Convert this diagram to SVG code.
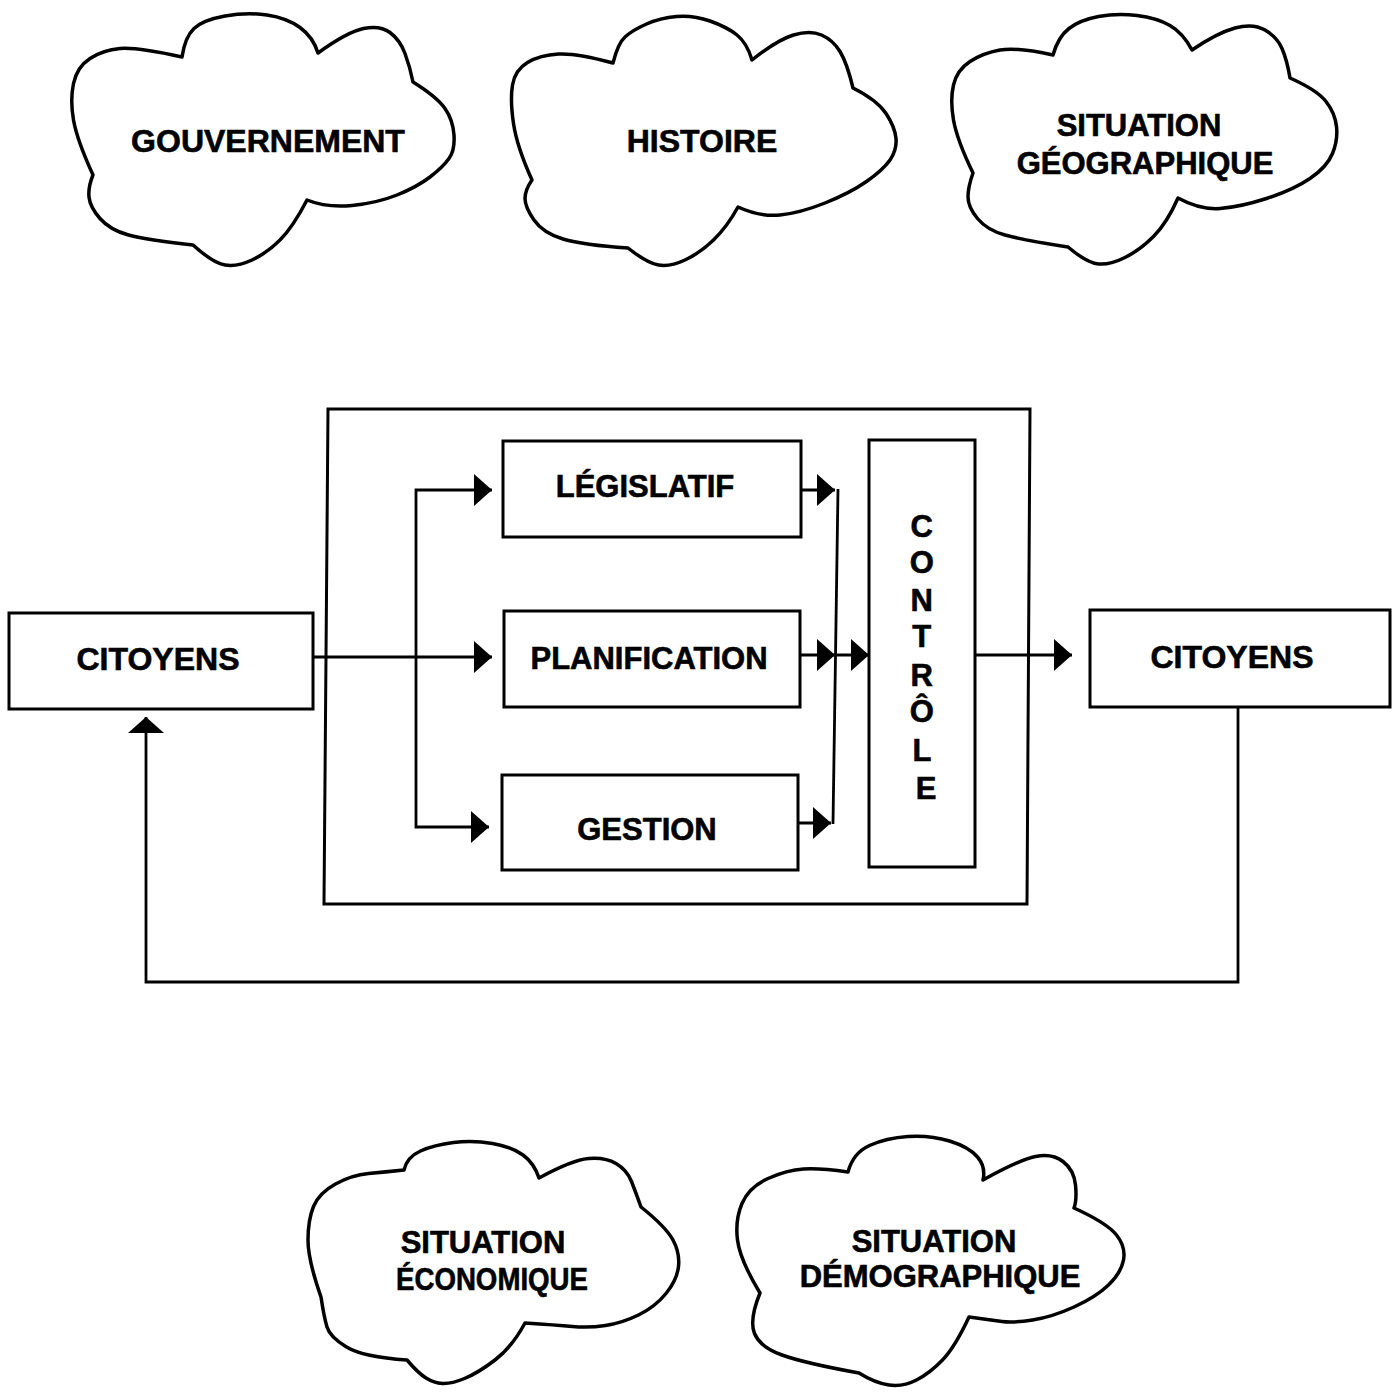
<svg xmlns="http://www.w3.org/2000/svg" width="1395" height="1392" viewBox="0 0 1395 1392">
<style>
.cloud{fill:none;stroke:#000;stroke-width:3.5;stroke-linejoin:round}
.box{fill:none;stroke:#000;stroke-width:3}
.conn{fill:none;stroke:#000;stroke-width:2.8}
.lbl{font-family:'Liberation Sans',Arial,sans-serif;font-weight:bold;font-size:31px;text-anchor:middle;fill:#000;stroke:#000;stroke-width:0.6}
</style>
<defs>
<marker id="ah" markerUnits="userSpaceOnUse" markerWidth="18" markerHeight="32" refX="18" refY="16" orient="auto" overflow="visible">
<path d="M0,0 L18,16 L0,32 Z" fill="#000"/>
</marker>
<marker id="ahUp" markerUnits="userSpaceOnUse" markerWidth="16" markerHeight="36" refX="16" refY="18" orient="auto" overflow="visible">
<path d="M0,0 L16,18 L0,36 Z" fill="#000"/>
</marker>
</defs>
<rect width="1395" height="1392" fill="#fff"/>

<g id="cloud-gouvernement">
<path class="cloud" d="M182,57 Q185,37 194,28.5 Q203,20 225,16 Q247,12 267,15 Q287,18 300,27.5 Q313,37 318,53 Q347,32 363.5,28.5 Q380,25 390,32.5 Q400,40 405,53.5 Q410,67 413,82 Q437,97 445,108.5 Q453,120 454,135 Q455,150 449,158.5 Q443,167 430,177 Q417,187 397,195 Q377,203 352,205.5 Q327,208 307,200 Q293,227 280,240 Q267,253 252,260 Q237,267 225,265 Q213,263 193,245 Q147,240 128.5,235 Q110,230 100,218.5 Q90,207 89,197 Q88,187 93,175 Q77,140 73.5,120 Q70,100 73.5,83.5 Q77,67 90,58.5 Q103,50 120,48.5 Q137,47 182,57 Z"/>
<text class="lbl" x="268" y="152" style="font-size:32px">GOUVERNEMENT</text>
</g>

<g id="cloud-histoire">
<path class="cloud" d="M613,63 Q618,43 625.5,36.5 Q633,30 646.5,24 Q660,18 676.5,16.5 Q693,15 710,21 Q727,27 737,35 Q747,43 752,60 Q777,40 793.5,35 Q810,30 821.5,35 Q833,40 840,51.5 Q847,63 853,88 Q877,100 886,113.5 Q895,127 896,138.5 Q897,150 890,160 Q883,170 866.5,181.5 Q850,193 825,203 Q800,213 780,215 Q760,217 738,207 Q727,227 713.5,240 Q700,253 685,260 Q670,267 658.5,265 Q647,263 628,248 Q583,245 563,239 Q543,233 534,220 Q525,207 525,198.5 Q525,190 532,180 Q517,147 513.5,123.5 Q510,100 512.5,85 Q515,70 527.5,62.5 Q540,55 558.5,54 Q577,53 613,63 Z"/>
<text class="lbl" x="702" y="152" style="font-size:32px">HISTOIRE</text>
</g>

<g id="cloud-geographique">
<path class="cloud" d="M1053,55 Q1058,37 1069,28.5 Q1080,20 1098.5,16.5 Q1117,13 1137,15.5 Q1157,18 1170,25.5 Q1183,33 1192,50 Q1217,33 1235,28 Q1253,23 1265,30 Q1277,37 1282,48.5 Q1287,60 1290,78 Q1317,90 1326,101.5 Q1335,113 1336.5,126.5 Q1338,140 1332.5,153.5 Q1327,167 1310,178.5 Q1293,190 1266.5,198.5 Q1240,207 1220,208.5 Q1200,210 1178,198 Q1167,223 1153.5,236.5 Q1140,250 1125,257.5 Q1110,265 1098.5,264 Q1087,263 1068,247 Q1023,240 1005,235 Q987,230 977.5,218.5 Q968,207 968,197 Q968,187 973,173 Q957,140 953.5,120 Q950,100 953.5,85 Q957,70 970,61.5 Q983,53 1000,50 Q1017,47 1053,55 Z"/>
<text class="lbl" x="1139" y="136">SITUATION</text>
<text class="lbl" x="1145" y="174">GÉOGRAPHIQUE</text>
</g>

<g id="cloud-economique">
<path class="cloud" d="M404,1170 Q407,1157 420.5,1151 Q434,1145 453.5,1142.5 Q473,1140 492.5,1143.5 Q512,1147 523,1155 Q534,1163 539,1178 Q572,1160 588.5,1158.5 Q605,1157 616,1163.5 Q627,1170 631.5,1181.5 Q636,1193 641,1207 Q666,1227 673,1240 Q680,1253 678.5,1266.5 Q677,1280 666,1293.5 Q655,1307 638.5,1315 Q622,1323 605.5,1325.5 Q589,1328 572.5,1326.5 Q556,1325 525,1323 Q512,1347 495,1360 Q478,1373 464.5,1378.5 Q451,1384 442.5,1383.5 Q434,1383 426,1378 Q418,1373 407,1360 Q363,1357 346.5,1347 Q330,1337 327,1327 Q324,1317 321,1297 Q308,1260 308,1240 Q308,1220 313.5,1206.5 Q319,1193 335.5,1184 Q352,1175 368.5,1173.5 Q385,1172 404,1170 Z"/>
<text class="lbl" x="483" y="1253">SITUATION</text>
<text class="lbl" x="492" y="1290" textLength="192" lengthAdjust="spacingAndGlyphs">ÉCONOMIQUE</text>
</g>

<g id="cloud-demographique">
<path class="cloud" d="M848,1172 Q853,1153 869.5,1145.5 Q886,1138 908,1136.5 Q930,1135 949.5,1141 Q969,1147 977.5,1157 Q986,1167 983,1180 Q1019,1160 1035.5,1156.5 Q1052,1153 1063,1161.5 Q1074,1170 1075.5,1185 Q1077,1200 1074,1208 Q1107,1223 1116.5,1235 Q1126,1247 1123.5,1260 Q1121,1273 1108.5,1285 Q1096,1297 1074,1307 Q1052,1317 1032.5,1320 Q1013,1323 1002,1321.5 Q991,1320 969,1317 Q955,1347 942.5,1360 Q930,1373 916.5,1380 Q903,1387 889,1385 Q875,1383 859,1373 Q804,1363 782,1355 Q760,1347 754.5,1333.5 Q749,1320 760,1293 Q740,1260 737.5,1240 Q735,1220 742,1203.5 Q749,1187 768,1178.5 Q787,1170 803.5,1169 Q820,1168 848,1172 Z"/>
<text class="lbl" x="934" y="1252">SITUATION</text>
<text class="lbl" x="940" y="1287">DÉMOGRAPHIQUE</text>
</g>

<g id="system-box">
<path class="box" d="M328,409 L1030,409 L1027,904 L324,904 Z"/>
</g>

<g id="citoyens-in">
<rect class="box" x="9" y="613" width="304" height="96"/>
<text class="lbl" x="158" y="670" style="font-size:32px">CITOYENS</text>
</g>

<g id="legislatif">
<rect class="box" x="503" y="441" width="298" height="96"/>
<text class="lbl" x="645" y="497">LÉGISLATIF</text>
</g>

<g id="planification">
<rect class="box" x="504" y="611" width="296" height="96"/>
<text class="lbl" x="649" y="669">PLANIFICATION</text>
</g>

<g id="gestion">
<rect class="box" x="502" y="775" width="296" height="95"/>
<text class="lbl" x="647" y="840">GESTION</text>
</g>

<g id="controle">
<rect class="box" x="869" y="440" width="106" height="427"/>
<text class="lbl" style="font-size:31px">
<tspan x="926" y="537">C</tspan>
<tspan x="926" y="573">O</tspan>
<tspan x="926" y="611">N</tspan>
<tspan x="926" y="647">T</tspan>
<tspan x="926" y="686">R</tspan>
<tspan x="926" y="722">Ô</tspan>
<tspan x="926" y="761">L</tspan>
<tspan x="926" y="799">E</tspan>
</text>
</g>

<g id="citoyens-out">
<rect class="box" x="1090" y="610" width="300" height="97"/>
<text class="lbl" x="1232" y="668" style="font-size:32px">CITOYENS</text>
</g>

<g id="connectors">
<path class="conn" d="M313,657 H492" marker-end="url(#ah)"/>
<path class="conn" d="M416,657 V490 H492" marker-end="url(#ah)"/>
<path class="conn" d="M416,657 V827 H489" marker-end="url(#ah)"/>
<path class="conn" d="M801,490 H835" marker-end="url(#ah)"/>
<path class="conn" d="M800,655 H835" marker-end="url(#ah)"/>
<path class="conn" d="M798,823 H831" marker-end="url(#ah)"/>
<path class="conn" d="M838,489 L833,824"/>
<path class="conn" d="M836,655 H869" marker-end="url(#ah)"/>
<path class="conn" d="M975,655 H1072" marker-end="url(#ah)"/>
<path class="conn" d="M1238,707 V982 H146 V717" marker-end="url(#ahUp)"/>
</g>
</svg>
